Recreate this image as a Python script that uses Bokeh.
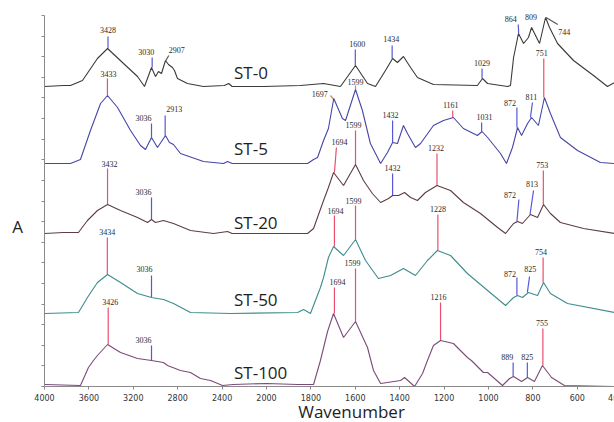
import numpy as np
from bokeh.plotting import figure
from bokeh.models import (Range1d, FixedTicker, Label, LabelSet, ColumnDataSource,
                          CustomLabelingPolicy)
from bokeh.embed import file_html
from bokeh.resources import INLINE

# ---------------- data (wavenumber in cm-1, stacked absorbance in arbitrary units) -------------
st0_wn = [4000, 3829, 3766, 3658, 3523, 3432, 3288, 3162, 3099, 3036, 3000, 2973, 2946, 2910, 2883,
          2847, 2829, 2802, 2712, 2568, 2380, 2340, 2310, 2027, 1847, 1743, 1667, 1599, 1545, 1509,
          1464, 1432, 1410, 1383, 1351, 1320, 1248, 1050, 1027, 1004, 914, 901, 887, 865, 842,
          820, 806, 770, 743, 725, 689, 617, 527, 464, 432]
st0_a = [300, 301, 301, 306, 328, 338, 323, 310, 300, 319, 310, 315, 313, 326, 322,
         319, 316, 308, 303, 300, 301, 303, 300, 300, 301, 303, 300, 321, 303, 300,
         316, 328, 324, 330, 319, 309, 302, 301, 308, 303, 300, 301, 329, 353, 343,
         349, 359, 343, 369, 359, 343, 326, 311, 300, 304]

st5_wn = [4000, 3766, 3676, 3586, 3495, 3432, 3342, 3225, 3135, 3090, 3036, 2982, 2910, 2874, 2838,
          2775, 2568, 2387, 2351, 2310, 2027, 1815, 1788, 1770, 1743, 1721, 1697, 1658, 1644, 1599,
          1568, 1532, 1486, 1455, 1432, 1410, 1383, 1365, 1329, 1306, 1248, 1203, 1158, 1113, 1050,
          1029, 1004, 946, 919, 892, 869, 851, 824, 806, 775, 748, 721, 676, 599, 496, 432]
st5_a = [223, 223, 227, 256, 283, 291, 279, 256, 241, 237, 249, 239, 251, 244, 242,
         233, 225, 223, 225, 223, 223, 223, 227, 229, 246, 258, 288, 268, 266, 297,
         276, 243, 223, 234, 244, 243, 261, 253, 239, 243, 261, 266, 269, 258, 251,
         255, 249, 233, 223, 239, 259, 251, 263, 269, 261, 289, 273, 249, 236, 224, 223]

st20_wn = [4000, 3829, 3694, 3613, 3523, 3432, 3315, 3162, 3072, 3036, 3000, 2928, 2838, 2685, 2477,
           2351, 2310, 2027, 1815, 1788, 1743, 1721, 1698, 1653, 1599, 1563, 1523, 1486, 1450, 1432,
           1405, 1378, 1351, 1320, 1284, 1232, 1171, 1113, 1036, 959, 923, 887, 869, 847, 811,
           779, 752, 721, 676, 572, 432]
st20_a = [153, 154, 154, 166, 176, 182, 176, 169, 164, 167, 164, 166, 163, 156, 153,
          155, 153, 153, 153, 158, 186, 199, 214, 201, 222, 206, 193, 184, 188, 191,
          191, 194, 189, 186, 194, 201, 196, 184, 173, 159, 153, 163, 165, 163, 172,
          169, 182, 173, 164, 158, 153]

st50_wn = [4000, 3694, 3613, 3523, 3432, 3315, 3162, 3036, 2928, 2838, 2685, 2324, 1860, 1833, 1802,
           1757, 1743, 1721, 1698, 1653, 1599, 1554, 1496, 1441, 1383, 1329, 1275, 1230, 1171, 1095,
           1004, 923, 887, 869, 847, 820, 779, 752, 721, 644, 432]
st50_a = [73, 74, 89, 104, 112, 104, 93, 89, 87, 83, 74, 73, 74, 77, 73,
          99, 109, 129, 140, 131, 147, 126, 108, 111, 118, 111, 126, 136, 131, 113,
          96, 81, 89, 91, 89, 94, 91, 104, 93, 83, 74]

st100_wn = [4000, 3676, 3604, 3559, 3523, 3432, 3315, 3162, 3036, 2928, 2892, 2775, 2685, 2595, 2504,
            2396, 2300, 2000, 1860, 1788, 1779, 1757, 1725, 1698, 1653, 1599, 1545, 1518, 1486, 1396,
            1378, 1333, 1297, 1275, 1248, 1216, 1158, 1095, 1077, 1023, 1004, 937, 905, 887, 851,
            824, 793, 757, 716, 658, 432]
st100_a = [2, 1, 19, 26, 31, 42, 34, 28, 26, 24, 21, 16, 14, 8, 6,
           1, 2, 3, 2, 2, 9, 26, 55, 73, 49, 65, 39, 16, 3, 6,
           9, 0, 13, 26, 41, 46, 43, 29, 26, 14, 14, 1, 8, 10, 5,
           9, 5, 21, 9, 1, 0]

# peak marks: (label, wn_bottom, a_bottom, wn_top, a_top, a_label, label_dx_px, kind)
st0_peaks = [(3428, 3428, 338, 3428, 350, 357, 0, "b"), (3030, 3030, 319, 3030, 329, 335, -6, "b"),
             (2907, 2907, 326, 2880, 331, 337, 11, "g"), (1600, 1600, 321, 1600, 337, 343, 2, "b"),
             (1434, 1434, 328, 1434, 341, 348, -1, "b"), (1029, 1029, 308, 1029, 318, 324, 0, "b"),
             (864, 864, 353, 866, 362, 368, -8, "b"), (809, None, None, None, None, 370, 0, None),
             (744, 741, 369, 688, 362, 355, 19, "g")]
st5_peaks = [(3433, 3433, 291, 3433, 308, 313, 1, "r"), (3036, 3036, 249, 3036, 263, 269, -8, "b"),
             (2913, 2913, 251, 2913, 271, 278, 9, "b"), (1697, 1697, 287, 1712, 291, 293, -14, "o"),
             (1599, 1599, 297, 1599, 301, 305, 0, "o"), (1432, 1432, 244, 1432, 266, 272, -2, "b"),
             (1161, 1161, 269, 1161, 276, 282, -2, "r"), (1031, 1031, 255, 1031, 264, 270, 3, "b"),
             (872, 872, 259, 872, 279, 284, -7, "b"), (811, 811, 269, 802, 284, 290, 1, "b"),
             (751, 751, 289, 751, 328, 334, -2, "r")]
st20_peaks = [(3432, 3432, 182, 3432, 218, 223, 2, "r"), (3036, 3036, 167, 3036, 189, 195, -8, "b"),
              (1694, 1694, 214, 1685, 239, 245, 5, "r"), (1599, 1599, 222, 1599, 256, 262, -2, "r"),
              (1432, 1432, 191, 1432, 213, 219, 0, "b"), (1232, 1232, 201, 1232, 233, 239, -1, "r"),
              (872, 872, 165, 863, 187, 192, -7, "b"), (813, 813, 172, 797, 196, 203, 2, "b"),
              (753, 753, 182, 753, 216, 222, -1, "r")]
st50_peaks = [(3434, 3434, 112, 3434, 149, 155, 0, "r"), (3036, 3036, 89, 3036, 111, 118, -7, "b"),
              (1694, 1694, 140, 1694, 171, 176, 1, "r"), (1599, 1599, 147, 1599, 181, 186, -2, "r"),
              (1228, 1228, 136, 1228, 172, 178, 0, "r"), (872, 872, 91, 872, 109, 113, -7, "b"),
              (825, 825, 94, 815, 110, 118, 3, "b"), (754, 754, 104, 754, 129, 135, -2, "r")]
st100_peaks = [(3426, 3426, 42, 3426, 79, 85, 2, "r"), (3036, 3036, 26, 3036, 41, 47, -8, "b"),
               (1694, 1694, 73, 1694, 99, 105, 3, "r"), (1599, 1599, 65, 1599, 118, 124, -3, "r"),
               (1216, 1216, 46, 1216, 84, 90, -2, "r"), (889, 889, 10, 889, 24, 30, -6, "b"),
               (825, 825, 9, 825, 24, 30, 0, "b"), (755, 755, 21, 755, 58, 64, -1, "r")]

sample_names = ["ST-0", "ST-5", "ST-20", "ST-50", "ST-100"]
name_levels = [314, 238, 164, 87, 14]
xtick_labels = [4000, 3600, 3200, 2800, 2400, 2000, 1800, 1600, 1400, 1200, 1000, 800, 600]
last_tick = 400    # partly cut off at the right edge in the original

# ---------------- helpers -------------
def u(wn):
    """Instrument display scale: region above 2000 cm-1 is compressed 2x."""
    w = np.asarray(wn, dtype=float)
    return np.where(w > 2000, 2000 + (w - 2000) / 2.0, w)

line_colors = ["#3a3a3a", "#4646a8", "#5e3d46", "#3f8c8c", "#7c4a7a"]
stick_colors = {"b": "#5858d6", "r": "#e8506e", "o": "#c98a62", "g": "#555555"}

X_START, X_END = 3198.2, 432.4     # display-unit extent of the canvas
A_TOP = 371

p = figure(width=614, height=422, output_backend="svg", toolbar_location=None,
           x_range=Range1d(X_START, X_END), y_range=Range1d(-36, 386),
           min_border_left=0, min_border_right=0, min_border_top=0, min_border_bottom=0)
p.outline_line_color = None
p.xgrid.visible = False
p.ygrid.visible = False
p.background_fill_color = "white"

# x axis at absorbance 0
p.xaxis.fixed_location = 0
p.xaxis.bounds = (3000, X_END)
p.xaxis.ticker = FixedTicker(ticks=[float(t) for t in u(xtick_labels)])
p.xaxis.major_label_overrides = {int(t): str(l) for t, l in zip(u(xtick_labels), xtick_labels)}
p.xaxis.minor_tick_line_color = None
p.xaxis.major_tick_in = 0
p.xaxis.major_tick_out = 3
p.xaxis.major_label_standoff = 4
p.xaxis.major_label_text_font = "DejaVu Sans"
p.xaxis.major_label_text_font_size = "8px"
p.xaxis.major_label_text_color = "#333333"
p.xaxis.axis_line_color = "#8a8a8a"
p.xaxis.major_tick_line_color = "#8a8a8a"

# y axis at 4000 cm-1, ticks only
p.yaxis.fixed_location = 3000
p.yaxis.bounds = (0, A_TOP)
p.yaxis.ticker = FixedTicker(ticks=list(np.linspace(0, A_TOP, 19)))
p.yaxis.minor_tick_line_color = None
p.yaxis.major_tick_in = 0
p.yaxis.major_tick_out = 3
p.yaxis.major_label_policy = CustomLabelingPolicy(code="if (false) { yield 0 }")
p.yaxis.axis_line_color = "#8a8a8a"
p.yaxis.major_tick_line_color = "#8a8a8a"

all_spectra = [(st0_wn, st0_a, st0_peaks), (st5_wn, st5_a, st5_peaks), (st20_wn, st20_a, st20_peaks),
               (st50_wn, st50_a, st50_peaks), (st100_wn, st100_a, st100_peaks)]

seg = dict(x0=[], y0=[], x1=[], y1=[], c=[])
lab = dict(x=[], y=[], text=[], dx=[])
for (wn, a, peaks), col in zip(all_spectra, line_colors):
    assert len(wn) == len(a)
    for (txt, wb, ab, wt, at, al, dx, kind) in peaks:
        if wb is not None:
            seg["x0"].append(float(u(wb))); seg["y0"].append(ab)
            seg["x1"].append(float(u(wt))); seg["y1"].append(at)
            seg["c"].append(stick_colors[kind])
        lab["x"].append(float(u(txt))); lab["y"].append(al)
        lab["text"].append(str(txt)); lab["dx"].append(dx)

p.segment("x0", "y0", "x1", "y1", source=ColumnDataSource(seg), line_color="c", line_width=1.2)

for (wn, a, peaks), col in zip(all_spectra, line_colors):
    p.line(u(wn), a, line_color=col, line_width=1.1)

p.add_layout(LabelSet(x="x", y="y", text="text", x_offset="dx", source=ColumnDataSource(lab),
                      text_align="center", text_baseline="middle", text_font="DejaVu Sans",
                      text_font_size="8px", text_color="#2a2a2a"))

for name, lvl in zip(sample_names, name_levels):
    p.add_layout(Label(x=float(u(2293)), y=lvl, text=name, text_align="left", text_baseline="middle",
                       text_font="Open Sans", text_font_size="17px", text_color="#1e1e1e"))

# the 400 tick label, partly cut off by the right edge as in the original
p.add_layout(Label(x=float(u(last_tick)), y=0, x_offset=-6, y_offset=-11, text=str(last_tick),
                   text_align="center", text_baseline="middle", text_font="DejaVu Sans",
                   text_font_size="8px", text_color="#333333"))

p.add_layout(Label(x=3121.6, y=160, text="A", text_align="center", text_baseline="middle",
                   text_font="Open Sans", text_font_size="17px", text_color="#1e1e1e"))
p.add_layout(Label(x=1617, y=-25, text="Wavenumber", text_align="center", text_baseline="middle",
                   text_font="Open Sans", text_font_size="17px", text_color="#1e1e1e"))

open("out.html", "w").write(file_html(p, INLINE))
